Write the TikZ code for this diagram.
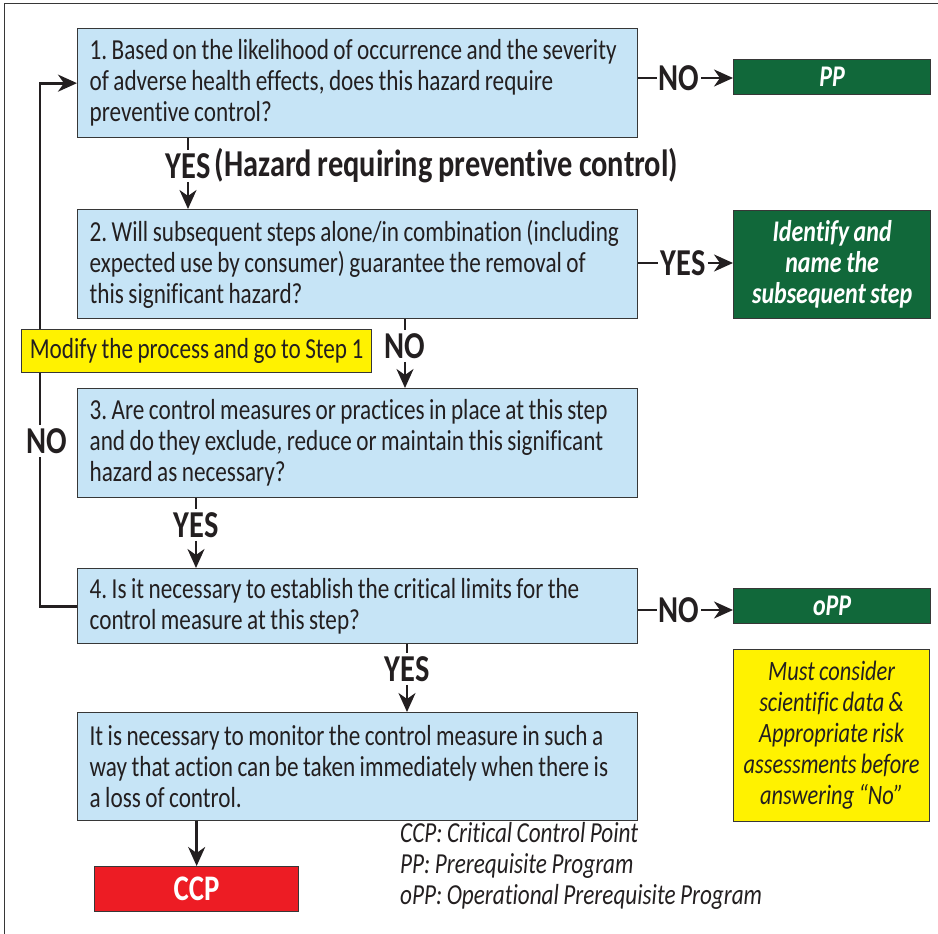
\documentclass[tikz,border=0pt]{standalone}
\usepackage{fontspec}
\setmainfont{Carlito}[FakeStretch=0.8, WordSpace=0.85, Ligatures=NoCommon]
\frenchspacing
\usetikzlibrary{positioning,arrows.meta}
\definecolor{boxblue}{RGB}{198,228,246}
\definecolor{ppgreen}{RGB}{17,104,58}
\definecolor{ccpred}{RGB}{237,28,36}
\definecolor{noteyellow}{RGB}{255,242,0}
\definecolor{edgegray}{RGB}{55,55,55}
\definecolor{inkblack}{RGB}{35,31,32}

\begin{document}
\begin{tikzpicture}[x=1pt, y=-1pt,
    qbox/.style={draw=edgegray, line width=1.3pt, fill=boxblue, anchor=north west,
        text width=536pt, inner xsep=12pt, inner ysep=0pt, align=flush left, text=inkblack,
        font=\fontsize{29}{31}\selectfont},
    gbox/.style={draw=edgegray, line width=1.3pt, fill=ppgreen, anchor=north west,
        minimum width=197pt, inner sep=0pt, align=center, text=white,
        font=\bfseries\itshape\fontsize{30}{31}\selectfont},
    ybox/.style={draw=edgegray, line width=1.3pt, fill=noteyellow, anchor=north west,
        inner sep=0pt, align=center, text=inkblack},
    lbl/.style={inner xsep=2pt, inner ysep=3pt, text=inkblack,
        font=\bfseries\fontsize{38}{38}\selectfont},
    conn/.style={draw=inkblack, line width=2.8pt},
    arr/.style={conn, -{Stealth[length=19pt, width=17pt, inset=6pt]}}]
\useasboundingbox (0,0) rectangle (938,934);
% frame
\draw[edgegray, line width=1pt] (4,934) -- (4,4) -- (938,4);

% question boxes
\node[qbox, minimum height=109pt] (s1) at (77,28)
    {1. Based on the likelihood of occurrence and the severity\\
     of adverse health effects, does this hazard require\\
     preventive control?};
\node[qbox, minimum height=109pt] (s2) at (77,209)
    {2. Will subsequent steps alone/in combination (including\\
     expected use by consumer) guarantee the removal of\\
     this significant hazard?};
\node[qbox, minimum height=109pt] (s3) at (77,388)
    {3. Are control measures or practices in place at this step\\
     and do they exclude, reduce or maintain this significant\\
     hazard as necessary?};
\node[qbox, minimum height=75pt] (s4) at (77,568)
    {4. Is it necessary to establish the critical limits for the\\
     control measure at this step?};
\node[qbox, minimum height=108pt] (s5) at (77,712)
    {It is necessary to monitor the control measure in such a\\
     way that action can be taken immediately when there is\\
     a loss of control.};

% outcome boxes
\node[gbox, minimum height=35pt] (pp) at (733,59) {PP};
\node[gbox, minimum height=108pt] (subs) at (733,210)
    {Identify and\\ name the\\ subsequent step};
\node[gbox, minimum height=35pt] (opp) at (733,588) {oPP};
\node[draw=edgegray, line width=1.3pt, fill=ccpred, anchor=north west,
    minimum width=204pt, minimum height=45pt, inner sep=0pt, text=white,
    font=\bfseries\fontsize{36}{36}\selectfont] (ccp) at (94,866) {CCP};
\node[ybox, minimum width=196pt, minimum height=172pt,
    font=\itshape\fontsize{28}{31}\selectfont] (note) at (733,649)
    {Must consider\\ scientific data \&\\ Appropriate risk\\
     assessments before\\ answering “No”};

% answer labels
\node[lbl] (yes1) at (188,166) {YES};
\node[lbl, right=0pt of yes1] (yes1b) {(Hazard requiring preventive control)};
\node[lbl] (no1) at (679,78) {NO};
\node[lbl] (yes2) at (683,263) {YES};
\node[lbl] (no2) at (405,346) {NO};
\node[lbl] (yes3) at (196,525) {YES};
\node[lbl] (no4) at (679,610) {NO};
\node[lbl] (yes4) at (407,669) {YES};
\node[lbl] (noloop) at (47,441) {NO};

% connectors
\draw[conn] (s1.south -| yes1) -- (yes1.north);
\draw[arr] (yes1.south) -- (s2.north -| yes1);
\draw[conn] (s1.east |- no1) -- (no1.west);
\draw[arr] (no1.east) -- (pp.west |- no1);
\draw[conn] (s2.east |- yes2) -- (yes2.west);
\draw[arr] (yes2.east) -- (subs.west |- yes2);
\draw[conn] (s2.south -| no2) -- (no2.north);
\draw[arr] (no2.south) -- (s3.north -| no2);
\draw[conn] (s3.south -| yes3) -- (yes3.north);
\draw[arr] (yes3.south) -- (s4.north -| yes3);
\draw[conn] (s4.east |- no4) -- (no4.west);
\draw[arr] (no4.east) -- (opp.west |- no4);
\draw[conn] (s4.south -| yes4) -- (yes4.north);
\draw[arr] (yes4.south) -- (s5.north -| yes4);
\draw[arr] (s5.south -| ccp) -- (ccp.north);
\draw[conn] (s4.west) -| ([xshift=-7pt]noloop.south);
\draw[arr] ([xshift=-7pt]noloop.north) |- (s1.west);

% drawn last so that it hides the loop line
\node[ybox, minimum width=350pt, minimum height=43pt,
    font=\fontsize{29}{31}\selectfont] (modify) at (21,329)
    {Modify the process and go to Step 1};

% legend
\node[anchor=north west, align=left, inner sep=0pt, text=inkblack,
    font=\itshape\fontsize{29}{31}\selectfont] (legend) at (400,822)
    {CCP: Critical Control Point\\
     PP: Prerequisite Program\\
     oPP: Operational Prerequisite Program};
\end{tikzpicture}
\end{document}
